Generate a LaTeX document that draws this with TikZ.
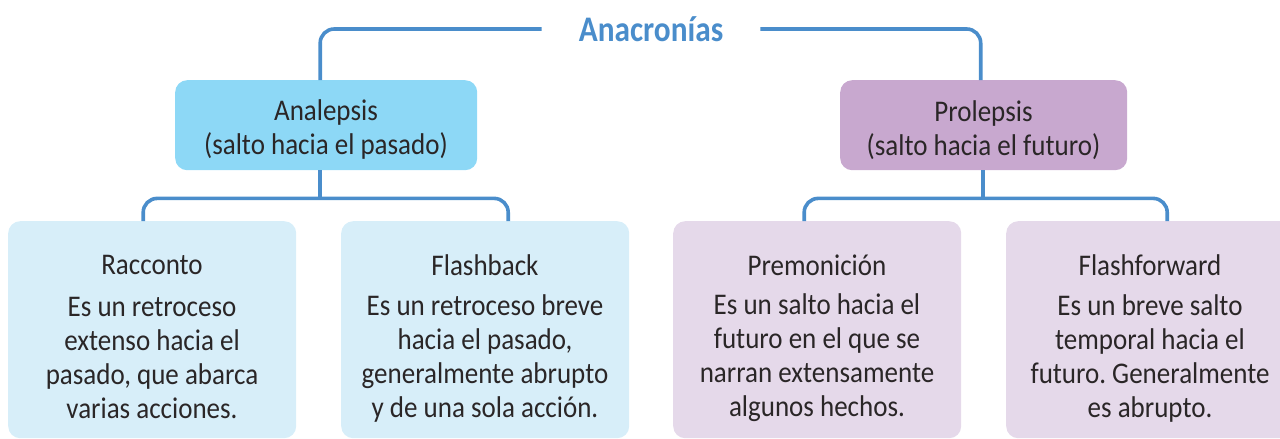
\documentclass[tikz,border=0pt]{standalone}
\usepackage{fontspec}
\setmainfont{Carlito}[FakeStretch=0.9]
\newfontfamily\titlefont{Carlito}[FakeStretch=0.87]
\frenchspacing
\definecolor{lineblue}{HTML}{4A8DCB}
\definecolor{anafill}{HTML}{8DD8F6}
\definecolor{profill}{HTML}{C8A8CF}
\definecolor{lbfill}{HTML}{D7EEF9}
\definecolor{lpfill}{HTML}{E5D9EA}
\definecolor{txtcol}{HTML}{2A2627}
\begin{document}
\begin{tikzpicture}[x=1pt,y=-1pt,
  conn/.style={draw=lineblue, line width=3.6pt, rounded corners=14pt},
  box/.style={rounded corners=12pt, inner sep=0pt, anchor=north west},
  topbox/.style={box, minimum width=302pt, minimum height=90pt},
  botbox/.style={box, minimum width=288pt, minimum height=217pt},
  txt/.style={text=txtcol, font=\fontsize{30}{34}\selectfont, align=center, inner sep=0pt}]
\useasboundingbox (0,0) rectangle (1280,439);
% title
\node[text=lineblue, font=\titlefont\fontsize{36}{40}\selectfont\bfseries, inner xsep=37pt, inner ysep=0pt] (title) at (651,29) {Anacronías};
% top boxes
\node[topbox, fill=anafill] (ana) at (175,80) {};
\node[topbox, fill=profill, minimum width=287pt] (pro) at (840,80) {};
\node[txt] (anat) at (326,130) {Analepsis\\(salto hacia el pasado)};
\node[txt] (prot) at (983.5,130) {Prolepsis\\(salto hacia el futuro)};
% bottom boxes
\node[botbox, fill=lbfill] (rac) at (8,221) {};
\node[botbox, fill=lbfill] (fla) at (341,221) {};
\node[botbox, fill=lpfill] (pre) at (673,221) {};
\node[botbox, fill=lpfill] (ffw) at (1006,221) {};
% bottom texts
\node[txt] (ract) at (152,265) {Racconto};
\node[txt] (flat) at (485,265) {Flashback};
\node[txt] (pret) at (817,265) {Premonición};
\node[txt] (ffwt) at (1150,265) {Flashforward};
\node[txt] (racb) at (152,358) {Es un retroceso\\extenso hacia el\\pasado, que abarca\\varias acciones.};
\node[txt] (flab) at (485,358) {Es un retroceso breve\\hacia el pasado,\\generalmente abrupto\\y de una sola acción.};
\node[txt] (preb) at (817,358) {Es un salto hacia el\\futuro en el que se\\narran extensamente\\algunos hechos.};
\node[txt] (ffwb) at (1150,358) {Es un breve salto\\temporal hacia el\\futuro. Generalmente\\es abrupto.};
% connectors
\draw[conn] (title.west) -| ([xshift=-6pt]ana.north);
\draw[conn] (title.east) -| ([xshift=-3pt]pro.north);
\draw[conn] ([xshift=-6pt]ana.south) -- ([xshift=-6pt,yshift=-28pt]ana.south);
\draw[conn] ([xshift=-9pt]rac.north) |- ([yshift=-28pt]ana.south) -| ([xshift=23pt]fla.north);
\draw[conn] ([xshift=-1pt]pro.south) -- ([xshift=-1pt,yshift=-28pt]pro.south);
\draw[conn] ([xshift=-13pt]pre.north) |- ([yshift=-28pt]pro.south) -| ([xshift=17pt]ffw.north);
\end{tikzpicture}
\end{document}
